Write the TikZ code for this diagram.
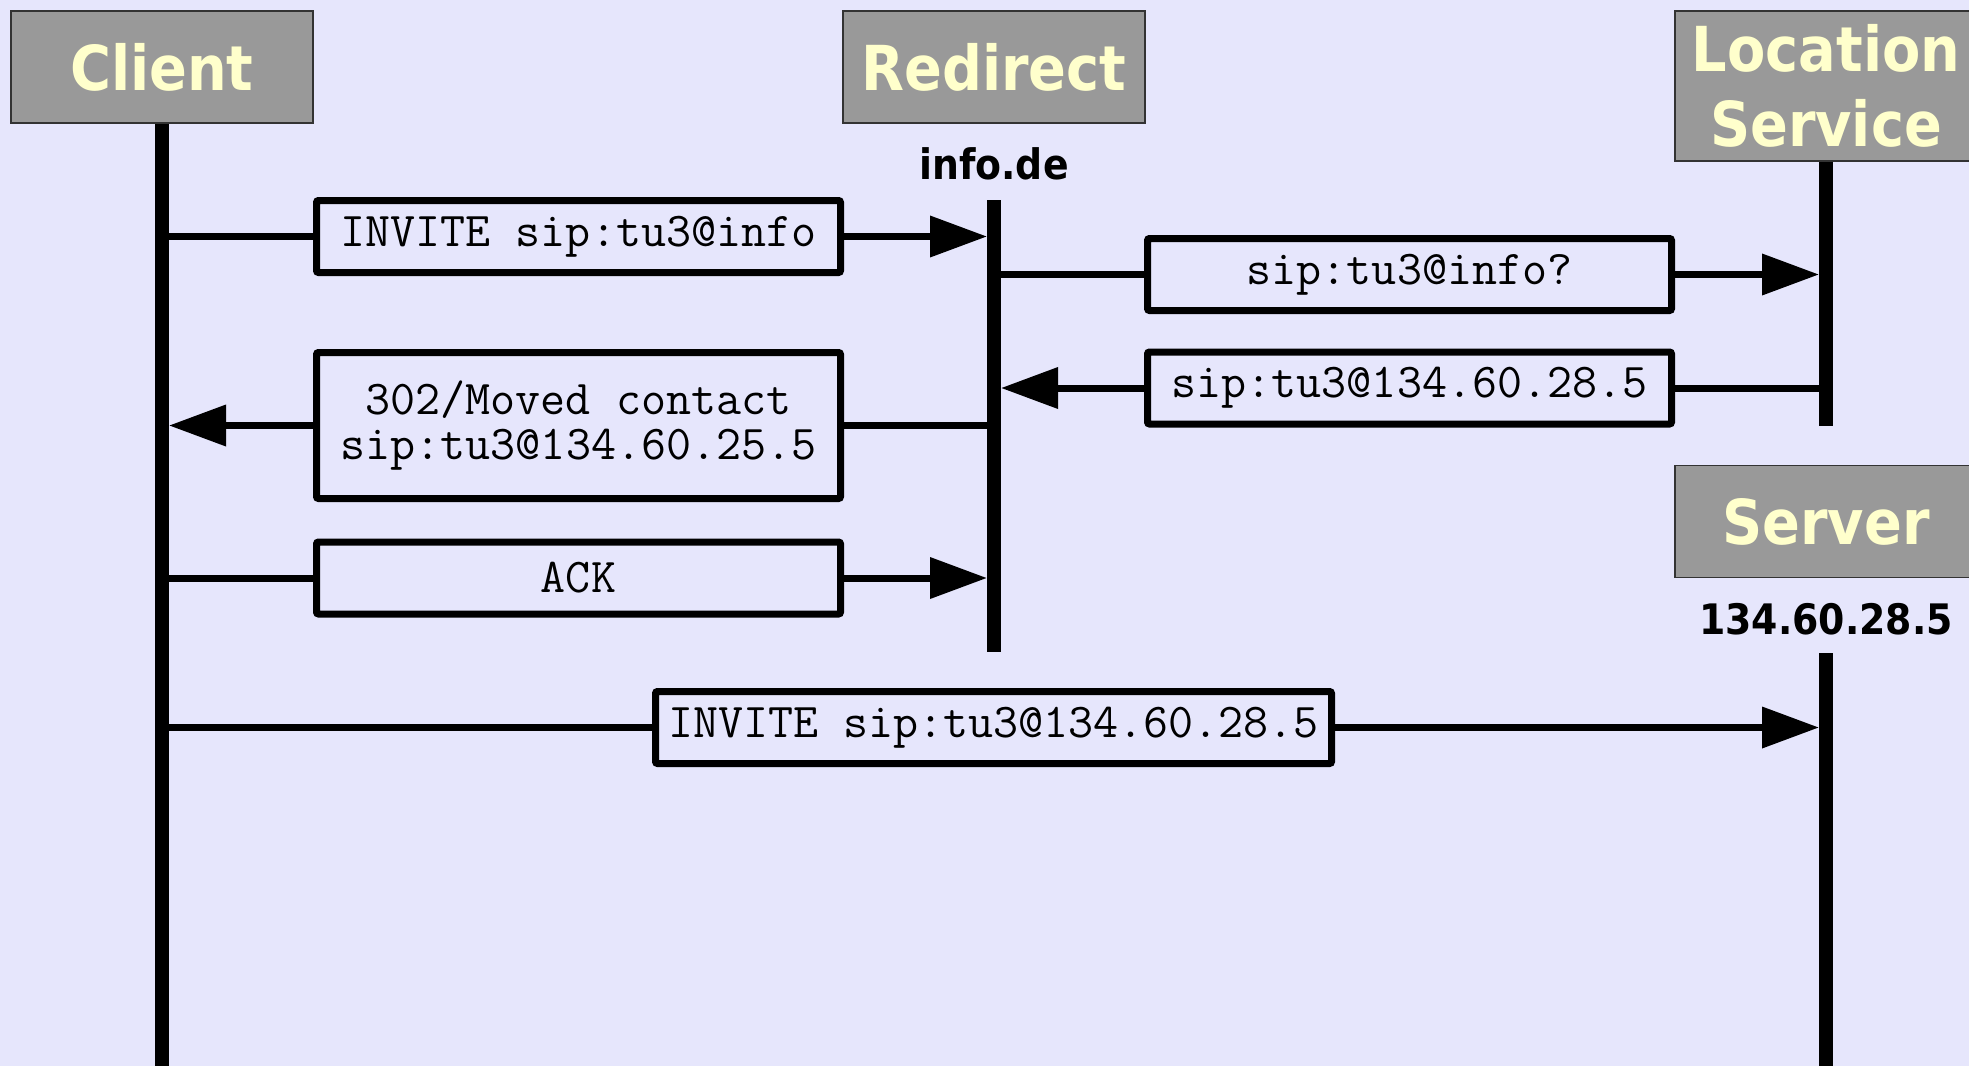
\documentclass[tikz,border=0pt]{standalone}
\usepackage{fontspec}
\usetikzlibrary{arrows.meta}
\newfontfamily\hdrfont{DejaVu Sans Condensed}
\definecolor{bgcol}{RGB}{230,230,252}
\definecolor{hdrgray}{RGB}{153,153,153}
\definecolor{hdrtext}{RGB}{255,255,204}
\begin{document}
\begin{tikzpicture}[x=0.5pt,y=-0.5pt]
	\tikzset{entity/.style = {draw=black!80,line width=0.75pt,fill=hdrgray,text=hdrtext,font=\hdrfont\bfseries\fontsize{31}{37.5}\selectfont,minimum width=151pt,minimum height=56pt,inner sep=0pt,align=center}}
	\tikzset{host/.style = {font=\hdrfont\bfseries\fontsize{21}{24}\selectfont}}
	\tikzset{msgbox/.style = {draw,line width=3.5pt,rounded corners=1pt,minimum width=262pt,minimum height=36pt,inner sep=0pt,align=center,font=\ttfamily\fontsize{24.3}{22.5}\selectfont}}
	\tikzset{lifeline/.style = {line width=7pt}}
	\tikzset{msg/.style = {line width=3.5pt}}
	\tikzset{call/.style = {msg,-{Triangle[length=28.5pt,width=20pt]},shorten >=3.5pt}}
	\fill[bgcol] (0,0) rectangle (1969,1066);
	\useasboundingbox (0,0) rectangle (1969,1066);
	% entities
	\node[entity] (client) at (162,67) {Client};
	\node[entity] (redirect) at (994,67) {Redirect};
	\node[entity,minimum height=75pt] (locsvc) at (1826,86) {Location\\Service};
	\node[entity] (server) at (1826,521.5) {Server};
	\node[host] (rdname) at (994,164) {info.de};
	\node[host] (svname) at (1826,619) {134.60.28.5};
	% lifelines
	\coordinate (clEnd) at (162,1066);
	\coordinate (rdTop) at (994,200);
	\coordinate (rdEnd) at (994,652);
	\coordinate (lsEnd) at (1826,426);
	\coordinate (svTop) at (1826,653);
	\coordinate (svEnd) at (1826,1066);
	\draw[lifeline] (client.south) -- (clEnd);
	\draw[lifeline] (rdTop) -- (rdEnd);
	\draw[lifeline] (locsvc.south) -- (lsEnd);
	\draw[lifeline] (svTop) -- (svEnd);
	% messages
	\node[msgbox] (invite) at (578.5,236.5) {INVITE sip:tu3@info};
	\node[msgbox] (query) at (1409.5,274.5) {sip:tu3@info?};
	\node[msgbox] (answer) at (1409.5,388) {sip:tu3@134.60.28.5};
	\node[msgbox,minimum height=73pt] (moved) at (578.5,425.5) {302/Moved contact\\sip:tu3@134.60.25.5};
	\node[msgbox] (ack) at (578.5,578) {ACK};
	\node[msgbox,minimum width=338pt] (invite2) at (993.5,727.5) {INVITE sip:tu3@134.60.28.5};
	\draw[msg] (client.south |- invite.west) -- (invite.west);
	\draw[call] (invite.east) -- (rdTop |- invite.east);
	\draw[msg] (rdTop |- query.west) -- (query.west);
	\draw[call] (query.east) -- (lsEnd |- query.east);
	\draw[msg] (lsEnd |- answer.east) -- (answer.east);
	\draw[call] (answer.west) -- (rdTop |- answer.west);
	\draw[msg] (rdTop |- moved.east) -- (moved.east);
	\draw[call] (moved.west) -- (client.south |- moved.west);
	\draw[msg] (client.south |- ack.west) -- (ack.west);
	\draw[call] (ack.east) -- (rdTop |- ack.east);
	\draw[msg] (client.south |- invite2.west) -- (invite2.west);
	\draw[call] (invite2.east) -- (svTop |- invite2.east);
\end{tikzpicture}
\end{document}
